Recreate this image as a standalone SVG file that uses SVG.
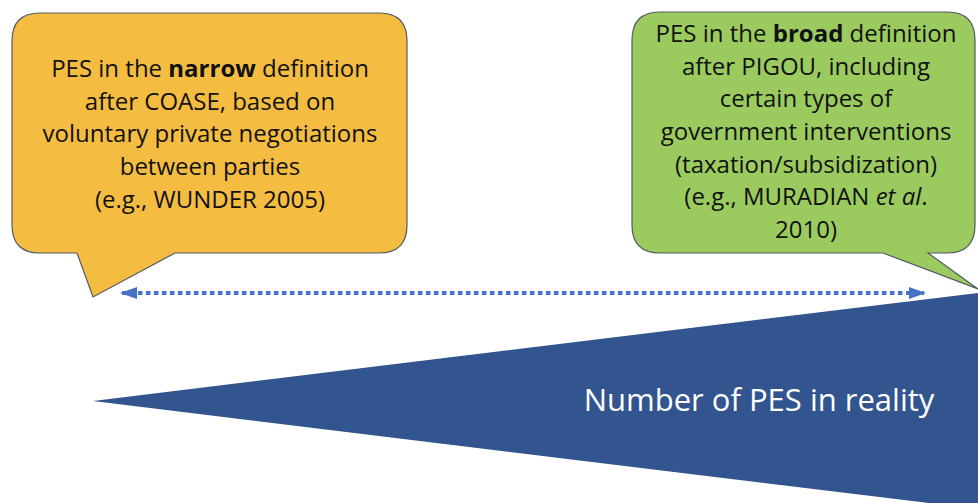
<svg xmlns="http://www.w3.org/2000/svg" width="978" height="503" viewBox="0 0 978 503">
  <defs>
    <style>
      .callout { stroke: #505a64; stroke-width: 1.2; stroke-linejoin: miter; }
      .txt { font-family: "Open Sans", "Liberation Sans", sans-serif; font-size: 24px; fill: #111; text-anchor: middle; }
      .big { font-family: "Open Sans", "Liberation Sans", sans-serif; font-size: 31px; fill: #ffffff; text-anchor: middle; }
      .dots { stroke: #4472C4; stroke-width: 4; stroke-dasharray: 4.5 3.5; fill: none; }
    </style>
    <marker id="ah" viewBox="0 0 17 12" refX="15" refY="6" markerWidth="17" markerHeight="12" orient="auto-start-reverse" markerUnits="userSpaceOnUse">
      <path d="M0,0 L17,6 L0,12 Z" fill="#4472C4"/>
    </marker>
  </defs>
  <rect width="978" height="503" fill="#ffffff"/>

  <g id="funnel">
    <polygon points="93,401 978,293 978,509" fill="#32548F"/>
    <text class="big" x="759" y="411">Number of PES in reality</text>
  </g>

  <g id="narrow">
    <path class="callout" fill="#F4BD42" d="M40,13 H379 Q407,13 407,41 V225 Q407,253 379,253 H175 L93,297 L77,253 H40 Q12,253 12,225 V41 Q12,13 40,13 Z"/>
    <text class="txt" x="210" y="77">PES in the <tspan font-weight="bold">narrow</tspan> definition</text>
    <text class="txt" x="210" y="110">after COASE, based on</text>
    <text class="txt" x="210" y="142">voluntary private negotiations</text>
    <text class="txt" x="210" y="175">between parties</text>
    <text class="txt" x="210" y="208">(e.g., WUNDER 2005)</text>
  </g>

  <g id="broad">
    <path class="callout" fill="#9BCB5F" d="M660,12 H947 Q975,12 975,40 V225 Q975,253 947,253 H928 L978,289 L883,253 H660 Q632,253 632,225 V40 Q632,12 660,12 Z"/>
    <text class="txt" x="806" y="42">PES in the <tspan font-weight="bold">broad</tspan> definition</text>
    <text class="txt" x="806" y="75">after PIGOU, including</text>
    <text class="txt" x="806" y="107">certain types of</text>
    <text class="txt" x="806" y="140">government interventions</text>
    <text class="txt" x="806" y="173">(taxation/subsidization)</text>
    <text class="txt" x="806" y="205">(e.g., MURADIAN <tspan font-style="italic">et al</tspan>.</text>
    <text class="txt" x="806" y="238">2010)</text>
  </g>

  <g id="connectors">
    <line class="dots" x1="122" y1="293" x2="924" y2="293" marker-start="url(#ah)" marker-end="url(#ah)"/>
  </g>
</svg>
